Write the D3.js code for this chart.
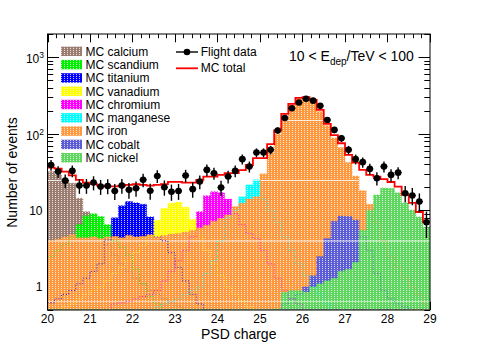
<!DOCTYPE html>
<html><head><meta charset="utf-8">
<script src="https://cdn.jsdelivr.net/npm/d3@7"></script>
<style>body{margin:0;background:#fff}text{font-family:"Liberation Sans",Arial,sans-serif;fill:#000}</style>
</head><body><svg id="c" width="478" height="345"></svg>
<script>
// ---------- data ----------
const xRange = [20, 29];
const nBins = 54;
const xTickLabels = [20, 21, 22, 23, 24, 25, 26, 27, 28, 29];
const yTickValues = [1, 10, 100, 1000];
const yTickLabels = [["1", ""], ["10", ""], ["10", "2"], ["10", "3"]];
const species = ["MC calcium", "MC scandium", "MC titanium", "MC vanadium", "MC chromium", "MC manganese", "MC iron", "MC cobalt", "MC nickel"];
const speciesColors = ["#9b7e71", "#00f000", "#0000ff", "#ffff00", "#ff00ff", "#00ffff", "#ff993f", "#5c5cd6", "#5fd65f"];

const calcium = [32, 29.6, 25.5, 22.6, 14.4, 9.6, 7.0, 5.0, 3.6, 2.6,
  2.0, 1.6, 1.3, 1.1, 0.9, 0.8, 0.7, 0.62, 0.56, 0.5,
  0.46, 0.42, 0.4, 0.4, 0.4, 0.4, 0.4, 0.4, 0.4, 0.4,
  0, 0, 0, 0, 0, 0, 0, 0, 0, 0, 0, 0, 0, 0, 0, 0, 0, 0, 0, 0, 0, 0, 0, 0];
const scandium = [2.5, 3.0, 3.6, 4.5, 6.5, 8.5, 9.0, 8.3, 6.5, 4.0,
  3.3, 2.6, 1.7, 1.1, 0.75, 0.6, 0.5, 0.45, 0.4, 0.4,
  0, 0, 0, 0, 0, 0, 0, 0, 0, 0, 0, 0, 0, 0, 0, 0, 0, 0, 0, 0, 0, 0, 0, 0, 0, 0, 0, 0, 0, 0, 0, 0, 0, 0];
const titanium = [0.62, 0.7, 0.8, 0.9, 1.1, 1.3, 1.6, 2.0, 4.1, 8.0,
  11.5, 13.0, 12.5, 12.0, 8.2, 4.5, 4.0, 2.8, 1.8, 1.2,
  0.8, 0.6, 0.5, 0.45, 0.4, 0, 0, 0, 0, 0,
  0, 0, 0, 0, 0, 0, 0, 0, 0, 0, 0, 0, 0, 0, 0, 0, 0, 0, 0, 0, 0, 0, 0, 0];
const vanadium = [0.45, 0.5, 0.55, 0.6, 0.7, 0.8, 0.9, 1.0, 1.2, 1.5,
  1.8, 2.2, 2.8, 3.5, 4.5, 7.4, 10.6, 12.4, 12.8, 11.0,
  7.6, 4.5, 3.0, 2.0, 1.4, 1.0, 0.8, 0.65, 0.55, 0.5,
  0, 0, 0, 0, 0, 0, 0, 0, 0, 0, 0, 0, 0, 0, 0, 0, 0, 0, 0, 0, 0, 0, 0, 0];
const chromium = [0.5, 0.5, 0.5, 0.5, 0.5, 0.5, 0.5, 0.5, 0.5, 0.6,
  0.62, 0.65, 0.7, 0.75, 0.8, 0.9, 1.2, 1.6, 2.2, 3.0,
  4.5, 9.6, 15.5, 17.5, 17.0, 14.0, 9.0, 6.5, 5.0, 4.3,
  3.0, 2.0, 1.3, 0.9, 0.7, 0.6, 0.5, 0, 0, 0,
  0, 0, 0, 0, 0, 0, 0, 0, 0, 0, 0, 0, 0, 0];
const manganese = [0, 0, 0, 0, 0, 0, 0, 0, 0, 0,
  0, 0, 0, 0, 0.5, 0.55, 0.6, 0.65, 0.7, 0.8,
  0.9, 1.0, 1.5, 2.2, 4.0, 8.0, 10.0, 15.0, 21.5, 25.0,
  14.0, 10.0, 7.0, 4.5, 3.0, 2.0, 1.4, 1.0, 0.8, 0.6,
  0.5, 0, 0, 0, 0, 0, 0, 0, 0, 0, 0, 0, 0, 0];
const iron = [4.0, 4.2, 4.5, 4.8, 4.4, 4.4, 4.5, 4.3, 4.5, 4.6,
  4.4, 4.7, 4.5, 4.6, 4.8, 4.5, 4.7, 4.9, 5.0, 5.2,
  5.5, 5.9, 6.4, 7.2, 7.9, 8.7, 11.2, 12.4, 14.0, 15.0,
  30, 56, 98, 165, 235, 285, 292, 270, 195, 128,
  88, 66, 42, 28, 18, 12, 7, 4.0, 2.5, 1.8,
  1.3, 1.0, 0.8, 0.6];
const cobalt = [0, 0, 0, 0, 0, 0, 0, 0, 0, 0,
  0, 0, 0, 0, 0, 0, 0, 0, 0, 0,
  0, 0, 0, 0, 0, 0, 0, 0, 0, 0,
  0, 0, 0, 0.6, 0.7, 0.8, 1.0, 1.4, 2.5, 4.3,
  7.2, 8.4, 8.3, 7.5, 4.5, 3.0, 1.5, 0.9, 0.7, 0.6,
  0.55, 0.5, 0, 0];
const nickel = [0.51, 0.51, 0.51, 0.51, 0.51, 0.51, 0.51, 0.51, 0.51, 0.51,
  0.51, 0.51, 0.51, 0.51, 0.51, 0.51, 0.51, 0.51, 0.51, 0.51,
  0.51, 0.51, 0.51, 0.51, 0.51, 0.51, 0.51, 0.51, 0.51, 0.51,
  0.51, 0.51, 0.52, 0.85, 0.9, 0.9, 0.86, 1.0, 1.1, 1.2,
  1.3, 1.6, 1.7, 2.1, 5.5, 10.0, 15.9, 19.6, 19.4, 16.9,
  12.5, 10.1, 8.2, 6.0];
const speciesValues = [calcium, scandium, titanium, vanadium, chromium, manganese, iron, cobalt, nickel];

const mcTotal = [36, 35, 32, 28.5, 25, 23, 22, 21, 20.5, 20.5,
  21, 21.5, 22, 21.5, 21, 21.5, 22, 23.5, 23.5, 23,
  23, 25, 27.5, 27.5, 29, 30.5, 30.5, 33.5, 39, 48,
  48, 73, 110, 181, 245, 293, 300, 277, 204, 134,
  96, 75, 53, 42, 33.7, 29, 27.6, 25.5, 23.4, 20.4,
  15.9, 12.5, 9.5, 7];
const flightData = [39, 32, 24.4, 32.7, 21, 21, 23, 20.4, 20.8, 17.9,
  21, 18.5, 19.4, 25, 18, 28, 20, 17.5, 17.9, 28.4,
  18.9, 23.7, 33.7, 30.5, 19.8, 27.6, 32.7, 46.5, 37.2, 56.7,
  56.7, 61.5, 110, 160, 215, 255, 285, 270, 231, 151,
  112, 87, 61.5, 46.5, 42.5, 34.7, 26.2, 37.2, 29, 31,
  16.7, 15.6, 13, 7];

// ---------- layout ----------
const svg = d3.select("#c");
const L = 47.5, R = 430, T = 34, B = 310;
const x = d3.scaleLinear().domain(xRange).range([L, R]);
const y = d3.scaleLog().domain([0.5, 2000]).range([B, T]).clamp(true);
const yv = v => v > 0 ? y(v) : B + 2;
const bw = (xRange[1] - xRange[0]) / nBins;
const edges = d3.range(nBins + 1).map(i => xRange[0] + i * bw);
const centers = d3.range(nBins).map(i => xRange[0] + (i + 0.5) * bw);
const stepData = vals => { const d = vals.map((v, i) => [edges[i], v]); d.push([edges[nBins], vals[nBins - 1]]); return d; };

const defs = svg.append("defs");
defs.append("clipPath").attr("id", "plot").append("rect").attr("x", L).attr("y", T).attr("width", R - L).attr("height", B - T - 0.6);
speciesColors.forEach((c, k) => {
  const p = defs.append("pattern").attr("id", "pat" + k).attr("patternUnits", "userSpaceOnUse").attr("width", 3).attr("height", 2);
  p.append("rect").attr("width", 3).attr("height", 2).attr("fill", c);
  p.append("rect").attr("x", 1).attr("y", 0).attr("width", 1).attr("height", 1).attr("fill", "#fff").attr("opacity", 0.75);
});

// ticks (drawn beneath the fills)
const axes = svg.append("g").attr("stroke", "#000").attr("stroke-width", 1);
for (let v = xRange[0]; v <= xRange[1] + 1e-9; v += 0.2) {
  const major = Math.abs(v - Math.round(v)) < 1e-6;
  const len = major ? 8.3 : 4.2;
  const px = Math.round(x(v)) + 0.5;
  axes.append("line").attr("x1", px).attr("x2", px).attr("y1", B).attr("y2", B - len);
  axes.append("line").attr("x1", px).attr("x2", px).attr("y1", T).attr("y2", T + len);
}
for (let e = -1; e <= 3; e++) {
  for (let m = 1; m <= 9; m++) {
    const v = m * Math.pow(10, e);
    if (v < 0.5 || v > 2000) continue;
    const len = m === 1 ? 11.5 : 5.7;
    const py = Math.round(y(v)) + 0.5;
    axes.append("line").attr("x1", L).attr("x2", L + len).attr("y1", py).attr("y2", py);
    axes.append("line").attr("x1", R).attr("x2", R - len).attr("y1", py).attr("y2", py);
  }
}

// fills (overlaid, drawn in order)
const gPlot = svg.append("g").attr("clip-path", "url(#plot)");
const area = d3.area().x(d => x(d[0])).y0(B + 2).y1(d => yv(d[1])).curve(d3.curveStepAfter);
speciesValues.forEach((vals, k) => {
  gPlot.append("path").attr("d", area(stepData(vals))).attr("fill", `url(#pat${k})`);
});

// white rendering seams across the filled area
const envelope = d3.range(nBins).map(i => d3.max(speciesValues, s => s[i]));
defs.append("clipPath").attr("id", "env").append("path").attr("d", area(stepData(envelope)));
const seams = gPlot.append("g").attr("clip-path", "url(#env)");
[[120.5, 0.8], [180.5, 0.8], [241, 0.85], [301.5, 0.5]].forEach(([py, o]) => {
  seams.append("line").attr("x1", L).attr("x2", R).attr("y1", py).attr("y2", py).attr("stroke", "#fff").attr("stroke-width", 1).attr("opacity", o);
});

// dotted outlines of the individual histograms
const line = d3.line().x(d => x(d[0])).y(d => yv(d[1])).curve(d3.curveStepAfter);
speciesValues.forEach((vals, k) => {
  gPlot.append("path").attr("d", line(stepData(vals))).attr("fill", "none")
    .attr("stroke", speciesColors[k]).attr("stroke-width", 1).attr("stroke-dasharray", "1,2").attr("opacity", 0.85);
});

// MC total
gPlot.append("path").attr("d", line(stepData(mcTotal))).attr("fill", "none").attr("stroke", "#ff0000").attr("stroke-width", 1.8);

// flight data
const gData = svg.append("g");
flightData.forEach((v, i) => {
  const cx = x(centers[i]), err = Math.sqrt(v);
  gData.append("line").attr("x1", cx).attr("x2", cx).attr("y1", y(v + err)).attr("y2", y(Math.max(v - err, 0.5))).attr("stroke", "#000").attr("stroke-width", 1.4);
  gData.append("line").attr("x1", x(edges[i])).attr("x2", x(edges[i + 1])).attr("y1", y(v)).attr("y2", y(v)).attr("stroke", "#000").attr("stroke-width", 1.2);
  gData.append("circle").attr("cx", cx).attr("cy", y(v)).attr("r", 3.3).attr("fill", "#000");
});

// frame
svg.append("rect").attr("x", L).attr("y", T).attr("width", R - L).attr("height", B - T).attr("fill", "none").attr("stroke", "#000").attr("stroke-width", 1);

// tick labels
xTickLabels.forEach(v => {
  svg.append("text").attr("x", x(v)).attr("y", 323).attr("text-anchor", "middle").attr("font-size", 12).text(v);
});
yTickValues.forEach((v, k) => {
  const [base, sup] = yTickLabels[k];
  const t = svg.append("text").attr("text-anchor", "end").attr("font-size", 12);
  if (sup) {
    t.attr("x", 44).attr("y", y(v) + 6);
    t.append("tspan").text(base);
    t.append("tspan").attr("font-size", 8.5).attr("dy", -5).text(sup);
  } else {
    t.attr("x", 42.5).attr("y", y(v) + 4.4).text(base);
  }
});

// axis titles
svg.append("text").attr("x", 238.7).attr("y", 339).attr("text-anchor", "middle").attr("font-size", 14).text("PSD charge");
svg.append("text").attr("transform", "translate(17,172.5) rotate(-90)").attr("text-anchor", "middle").attr("font-size", 14).text("Number of events");

// energy range text
const et = svg.append("text").attr("x", 289).attr("y", 61).attr("font-size", 14);
et.append("tspan").text("10 < E");
et.append("tspan").attr("font-size", 10).attr("dy", 4).text("dep");
et.append("tspan").attr("dy", -4).text("/TeV < 100");

// legend 1
species.forEach((name, k) => {
  const cy = 51.3 + k * 13.3;
  svg.append("rect").attr("x", 61).attr("y", cy - 4.7).attr("width", 21).attr("height", 9.4).attr("fill", `url(#pat${k})`);
  svg.append("text").attr("x", 85.5).attr("y", cy + 4.3).attr("font-size", 12).text(name);
});

// legend 2
svg.append("line").attr("x1", 176).attr("x2", 198).attr("y1", 52).attr("y2", 52).attr("stroke", "#000").attr("stroke-width", 1.4);
svg.append("circle").attr("cx", 187).attr("cy", 52).attr("r", 3.3).attr("fill", "#000");
svg.append("text").attr("x", 200.7).attr("y", 56.3).attr("font-size", 12).text("Flight data");
svg.append("line").attr("x1", 176).attr("x2", 198).attr("y1", 68.3).attr("y2", 68.3).attr("stroke", "#ff0000").attr("stroke-width", 1.8);
svg.append("text").attr("x", 200.7).attr("y", 72.3).attr("font-size", 12).text("MC total");
</script></body></html>
